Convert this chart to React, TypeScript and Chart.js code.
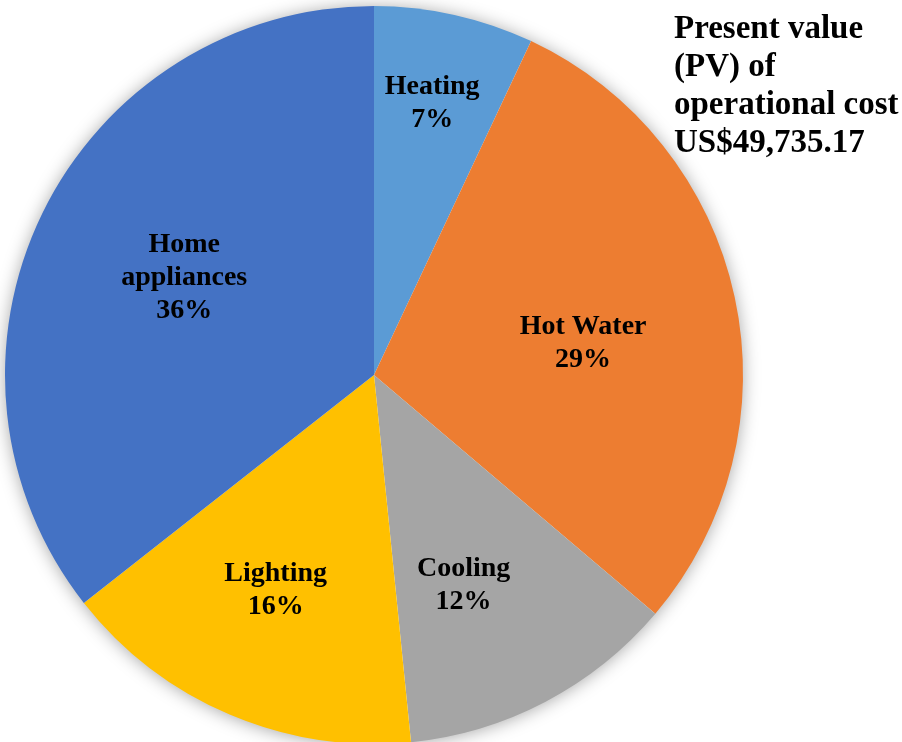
import React, { useEffect, useRef } from "react";
import { Chart, registerables } from "chart.js";

Chart.register(...registerables);

const categories = ["Heating", "Hot Water", "Cooling", "Lighting", "Home appliances"];
const labelLines = [["Heating"], ["Hot Water"], ["Cooling"], ["Lighting"], ["Home", "appliances"]];
const shares = [7.0, 29.2, 12.2, 16.0, 35.6];
const colors = ["#5B9BD5", "#ED7D31", "#A5A5A5", "#FFC000", "#4472C4"];
const titleLines = ["Present value", "(PV) of", "operational cost", "US$49,735.17"];

// label placement inside slices (radius fraction, angle tweak in degrees)
const labelRadius = [0.758, 0.574, 0.616, 0.637, 0.58];
const labelAngleShift = [-0.6, 3.1, 4.5, 1.7, 1.6];

const FONT = '"Liberation Serif", "Times New Roman", serif';

const shadowPlugin = {
  id: "pieShadow",
  beforeDatasetsDraw(chart: any) {
    const meta = chart.getDatasetMeta(0);
    const arc = meta.data[0];
    if (!arc) return;
    const ctx = chart.ctx;
    ctx.save();
    ctx.shadowColor = "rgba(0,0,0,0.38)";
    ctx.shadowBlur = 18;
    ctx.shadowOffsetX = 0;
    ctx.shadowOffsetY = 1;
    ctx.beginPath();
    ctx.arc(arc.x, arc.y, arc.outerRadius - 1, 0, Math.PI * 2);
    ctx.fillStyle = "#ffffff";
    ctx.fill();
    ctx.restore();
  },
};

const labelPlugin = {
  id: "sliceLabels",
  afterDatasetsDraw(chart: any) {
    const meta = chart.getDatasetMeta(0);
    const ctx = chart.ctx;
    ctx.save();
    ctx.fillStyle = "#000000";
    ctx.textAlign = "center";
    ctx.textBaseline = "alphabetic";
    ctx.font = `bold 28px ${FONT}`;
    const lineH = 33;
    meta.data.forEach((arc: any, i: number) => {
      const mid = (arc.startAngle + arc.endAngle) / 2 + (labelAngleShift[i] * Math.PI) / 180;
      const r = arc.outerRadius * labelRadius[i];
      const cx = arc.x + Math.cos(mid) * r;
      const cy = arc.y + Math.sin(mid) * r;
      const lines = [...labelLines[i], `${Math.round(shares[i])}%`];
      const n = lines.length;
      lines.forEach((t, k) => {
        const y = cy + (k - (n - 1) / 2) * lineH + 9;
        ctx.fillText(t, cx, y);
      });
    });
    // annotation text
    ctx.textAlign = "left";
    ctx.font = `bold 33px ${FONT}`;
    titleLines.forEach((t, k) => {
      ctx.fillText(t, 674, 38 + k * 38);
    });
    ctx.restore();
  },
};

export default function App() {
  const ref = useRef<HTMLCanvasElement>(null);
  useEffect(() => {
    if (!ref.current) return;
    const chart = new Chart(ref.current, {
      type: "pie",
      data: {
        labels: categories,
        datasets: [
          {
            data: shares,
            backgroundColor: colors,
            borderWidth: 0,
          },
        ],
      },
      options: {
        responsive: false,
        animation: false,
        layout: { padding: { left: 5, top: 6, right: 159, bottom: 16 } },
        plugins: {
          legend: { display: false },
          tooltip: { enabled: false },
          title: { display: false },
        },
      },
      plugins: [shadowPlugin, labelPlugin],
    });
    return () => chart.destroy();
  }, []);
  return (
    <div style={{ position: "fixed", left: 0, top: 0, width: 902, height: 742, overflow: "hidden", background: "#fff" }}>
      <canvas ref={ref} width={902} height={760} style={{ display: "block" }} />
    </div>
  );
}
